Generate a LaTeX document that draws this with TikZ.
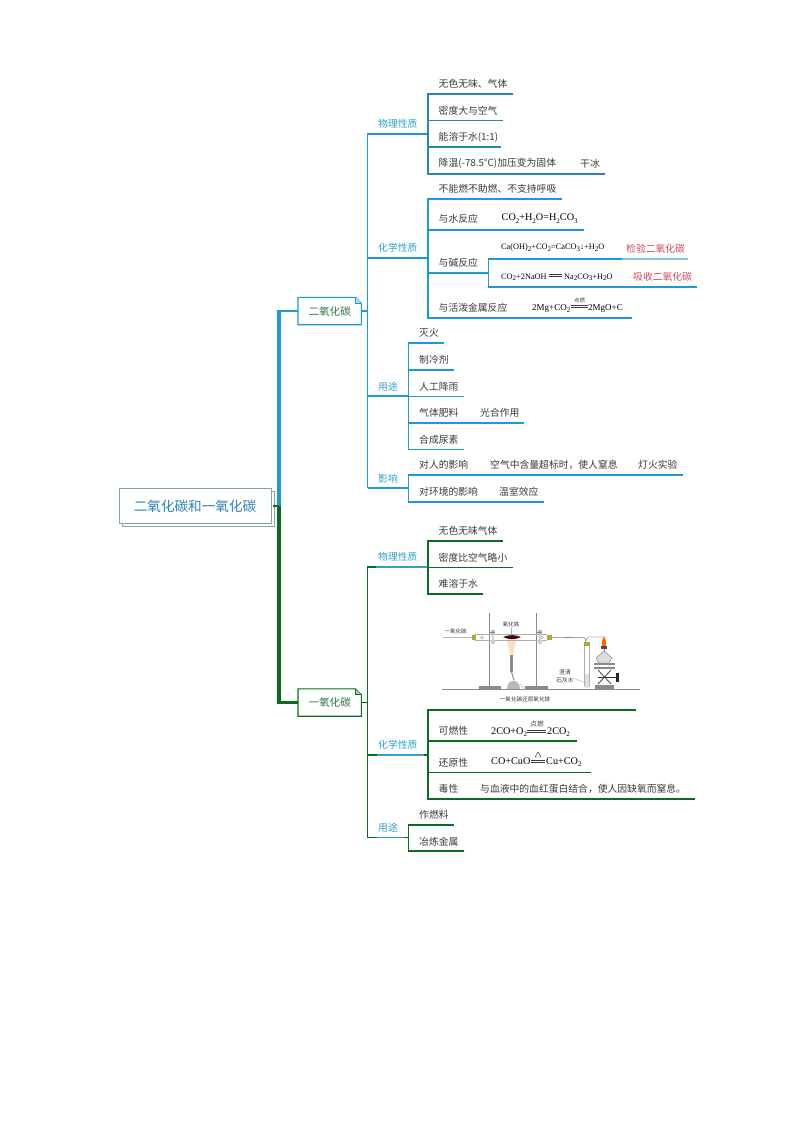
\documentclass[tikz,border=0pt]{standalone}
\usepackage{fontspec}
\setmainfont{Noto Sans CJK SC}
\newfontfamily\ser{Liberation Serif}
\newcommand\lo[1]{\raisebox{-0.22em}{\scriptsize\ser #1}}
\newcommand\eqbars[2]{\draw[eqbar] ([yshift=0.9pt]#1) -- ([yshift=0.9pt]#2); \draw[eqbar] ([yshift=-0.9pt]#1) -- ([yshift=-0.9pt]#2);}
\definecolor{bl}{HTML}{1B9AD6}
\definecolor{blt}{HTML}{2A86B8}
\definecolor{gr}{HTML}{0B6B1E}
\definecolor{tx}{HTML}{3A3A3A}
\definecolor{lb}{HTML}{2F9FCF}
\definecolor{rd}{HTML}{CF4A5C}
\definecolor{rootc}{HTML}{7FA8A0}
\definecolor{gy}{HTML}{8A8A8A}
\definecolor{tg}{HTML}{2F7A45}
\tikzset{
 txt/.style={anchor=west,inner sep=0pt,text=tx,font=\fontsize{9.8}{11}\selectfont},
 cat/.style={anchor=west,inner sep=0pt,text=lb,font=\fontsize{9.8}{11}\selectfont},
 red/.style={anchor=west,inner sep=0pt,text=rd,font=\fontsize{9.8}{11}\selectfont},
 eq/.style={anchor=base west,inner sep=0pt,text=black,font=\ser\fontsize{10.2}{11}\selectfont},
 eqs/.style={anchor=base west,inner sep=0pt,text=black,font=\ser\fontsize{8.3}{10}\selectfont},
 eqm/.style={anchor=base west,inner sep=0pt,text=black,font=\ser\fontsize{9}{10}\selectfont},
 cond/.style={inner sep=0pt,text=tx,font=\fontsize{6}{7}\selectfont},
 imt/.style={inner sep=0pt,text=tx,font=\fontsize{5.5}{6.5}\selectfont},
 bl1/.style={draw=bl,line width=1.1pt},
 bl2/.style={draw=bl,line width=1.25pt},
 bl3/.style={draw=blt,line width=1.25pt},
 gr1/.style={draw=gr,line width=1.1pt},
 gr2/.style={draw=gr,line width=1.25pt},
 eqbar/.style={draw=tx,line width=0.45pt},
 main/.style={line width=3.2pt},
 topic/.style={inner sep=0pt,minimum width=63pt,minimum height=27pt,text=tg,font=\fontsize{10.6}{12}\selectfont},
 rootbox/.style={draw=rootc,fill=white,line width=0.7pt},
 pole/.style={draw=gy,line width=0.9pt},
 tube/.style={draw=gy!70,line width=0.6pt},
}
\begin{document}
\begin{tikzpicture}[x=1pt,y=-1pt]
\useasboundingbox (0,0) rectangle (794,1123);
\fill[white] (0,0) rectangle (794,1123);

% main hubs
\coordinate (rootout) at (273,506);
\coordinate (maintop) at (279,310);
\coordinate (mainmid) at (279,506);
\coordinate (mainbot) at (279,704);
\node[topic] (co2) at (329.7,311) {二氧化碳};
\node[topic] (co) at (329.7,702.5) {一氧化碳};
\coordinate (bh) at (367.5,311);
\coordinate (gh) at (367.5,702.5);

% root
\draw[rootbox] (122,491) rectangle (274,526);
\draw[rootbox] (119,488) rectangle (271,523);
\node[inner sep=0pt,text=blt,font=\fontsize{13.6}{15}\selectfont] (root) at (195,506) {二氧化碳和一氧化碳};

\draw[main,draw=bl] (mainmid) -- (maintop);
\draw[bl2,line width=1.9pt] (maintop |- co2.west) -- (co2.west);
\draw[main,draw=gr] (mainmid) -- (mainbot);
\draw[gr,line width=2.2pt] (mainbot |- co.west) -- (co.west);
\draw[gr,line width=2.6pt] (rootout) -- (mainmid);

% topic boxes with folded corner
\foreach \n/\c in {co2/bl,co/gr}{
 \draw[draw=\c,line width=1.1pt] (\n.north west) -- ([xshift=-6pt]\n.north east) -- ([yshift=-6pt]\n.north east) -- (\n.south east) -- (\n.south west) -- cycle;
 \fill[\c!35] ([xshift=-6pt]\n.north east) -- ([xshift=-6pt,yshift=-6pt]\n.north east) -- ([yshift=-6pt]\n.north east) -- cycle;
 \draw[draw=\c,line width=0.7pt] ([xshift=-6pt]\n.north east) -- ([xshift=-6pt,yshift=-6pt]\n.north east) -- ([yshift=-6pt]\n.north east);
}

% ---------- CO2 tree
\coordinate (b1) at (428,134);
\coordinate (b2) at (428,258);
\coordinate (b3) at (408.5,396);
\coordinate (b4) at (408.5,488);
\draw[bl1] (co2.east) -- (bh);
\coordinate (btop) at (367.5,134);
\draw[bl1] (b4 -| bh) -- (btop) -- (b1);
\draw[bl1] (bh |- b2) -- (b2);
\draw[bl1] (bh |- b3) -- (b3);
\draw[bl1] (bh |- b4) -- (b4);
\node[cat] (c1) at (378,123.5) {物理性质};
\node[cat] (c2) at (378,248) {化学性质};
\node[cat] (c3) at (378,386.5) {用途};
\node[cat] (c4) at (378,478.5) {影响};

% physical
\coordinate (p1) at (512,94);
\coordinate (p2) at (502,120.5);
\coordinate (p3) at (500,147);
\coordinate (p4) at (604,174);
\draw[bl3] (p1 -| b1) -- (p4 -| b1);
\foreach \e in {p1,p2,p3,p4} \draw[bl3,line cap=rect] (\e -| b1) -- (\e);
\node[txt] (t1) at (438.5,84) {无色无味、气体};
\node[txt] (t2) at (438.5,110.5) {密度大与空气};
\node[txt] (t3) at (438.5,137) {能溶于水(1:1)};
\node[txt] (t4) at (438.5,163.5) {降温(-78.5°C)加压变为固体};
\node[txt] (t4b) at (580,163.5) {干冰};

% chemical
\coordinate (q1) at (561,199);
\coordinate (q2) at (583,230);
\coordinate (q3) at (488.5,273);
\coordinate (q4) at (631,318);
\coordinate (q3a) at (622,259);
\coordinate (q3aa) at (688,259);
\coordinate (q3b) at (696,287);
\draw[bl2] (q1 -| b1) -- (q4 -| b1);
\foreach \e in {q1,q2,q3,q4} \draw[bl2,line cap=rect] (\e -| b1) -- (\e);
\draw[bl2] (q3a -| q3) -- (q3b -| q3);
\draw[bl2,line cap=rect] (q3a -| q3) -- (q3a);
\draw[bl2,draw=bl!55] (q3a) -- (q3aa);
\draw[bl2,line cap=rect] (q3b -| q3) -- (q3b);
\node[txt] (u1) at (438.5,188.5) {不能燃不助燃、不支持呼吸};
\node[txt] (u2) at (438.5,219) {与水反应};
\node[eq] (u2e) at (501.5,221) {CO\lo{2}+H\lo{2}O=H\lo{2}CO\lo{3}};
\node[txt] (u3) at (438.5,262.5) {与碱反应};
\node[eqs] (u3a) at (501,250) {Ca(OH)\lo{2}+CO\lo{2}=CaCO\lo{3}↓+H\lo{2}O};
\node[red] (u3r) at (626,249) {检验二氧化碳};
\node[eqs] (u3b) at (501,279) {CO\lo{2}+2NaOH};
\coordinate (u3bl) at (549,275.5);
\coordinate (u3br) at (562,275.5);
\eqbars{u3bl}{u3br}
\node[eqs] (u3c) at (564,279) {Na\lo{2}CO\lo{3}+H\lo{2}O};
\node[red] (u3s) at (633,277) {吸收二氧化碳};
\node[txt] (u4) at (438.5,307.5) {与活泼金属反应};
\node[eqm] (u4e) at (532,310.5) {2Mg+CO\lo{2}};
\coordinate (u4l) at (571,306.5);
\coordinate (u4r) at (588,306.5);
\eqbars{u4l}{u4r}
\node[cond,font=\fontsize{5.5}{6}\selectfont] (u4c) at (579.5,300.5) {点燃};
\node[eqm] (u4f) at (588,310.5) {2MgO+C};

% uses
\coordinate (r1) at (443,343);
\coordinate (r2) at (453,370);
\coordinate (r3) at (463,396.5);
\coordinate (r4) at (523,423);
\coordinate (r5) at (463,449.5);
\draw[bl2] (r1 -| b3) -- (r5 -| b3);
\foreach \e in {r1,r2,r3,r4,r5} \draw[bl2,line cap=rect] (\e -| b3) -- (\e);
\node[txt] (v1) at (419,333) {灭火};
\node[txt] (v2) at (419,360) {制冷剂};
\node[txt] (v3) at (419,386.5) {人工降雨};
\node[txt] (v4) at (419,413) {气体肥料};
\node[txt] (v4b) at (480,413) {光合作用};
\node[txt] (v5) at (419,439.5) {合成尿素};

% influence
\coordinate (s1) at (682,475);
\coordinate (s2) at (543,502);
\draw[bl2] (s1 -| b4) -- (s2 -| b4);
\foreach \e in {s1,s2} \draw[bl2,line cap=rect] (\e -| b4) -- (\e);
\node[txt] (w1) at (419,465) {对人的影响};
\node[txt] (w1b) at (490,465) {空气中含量超标时，使人窒息};
\node[txt] (w1c) at (638,465) {灯火实验};
\node[txt] (w2) at (419,492) {对环境的影响};
\node[txt] (w2b) at (499,492) {温室效应};

% ---------- CO tree
\coordinate (g1) at (428,567);
\coordinate (g2) at (428,755);
\coordinate (g3) at (408.5,837.5);
\coordinate (gtop) at (367.5,567);
\draw[gr1] (co.east) -- (gh);
\draw[gr1] (g3 -| gh) -- (gtop) -- (g1);
\draw[gr1] (gh |- g2) -- (g2);
\draw[gr1] (gh |- g3) -- (g3);
\draw[draw=lb,line width=1.1pt] (376,567) -- (g1);
\draw[draw=lb,line width=1.1pt] (377,755) -- (424,755);
\draw[draw=lb,line width=1.1pt] (377,837.5) -- (404,837.5);
\node[cat] (d1) at (378,557) {物理性质};
\node[cat] (d2) at (378,744.5) {化学性质};
\node[cat] (d3) at (378,828) {用途};

\coordinate (h1) at (502,541);
\coordinate (h2) at (512,567.5);
\coordinate (h3) at (482,594);
\draw[gr2] (h1 -| g1) -- (h3 -| g1);
\foreach \e in {h1,h2,h3} \draw[gr2,line cap=rect] (\e -| g1) -- (\e);
\node[txt] (x1) at (438.5,531) {无色无味气体};
\node[txt] (x2) at (438.5,557.5) {密度比空气略小};
\node[txt] (x3) at (438.5,584) {难溶于水};

\coordinate (i0) at (635,710);
\coordinate (i1) at (576,741);
\coordinate (i2) at (590,772.5);
\coordinate (i3) at (694,799);
\draw[gr2] (i0 -| g2) -- (i3 -| g2);
\foreach \e in {i0,i1,i2,i3} \draw[gr2,line cap=rect] (\e -| g2) -- (\e);
\node[txt] (y1) at (438.5,731) {可燃性};
\node[eq] (y1a) at (491,734.5) {2CO+O\lo{2}};
\coordinate (y1l) at (527,731);
\coordinate (y1r) at (546,731);
\eqbars{y1l}{y1r}
\node[cond,font=\fontsize{6.6}{7}\selectfont] (y1c) at (537,723.5) {点燃};
\node[eq] (y1b) at (547,734.5) {2CO\lo{2}};
\node[txt] (y2) at (438.5,763) {还原性};
\node[eq] (y2a) at (491,764.5) {CO+CuO};
\coordinate (y2l) at (531,761.5);
\coordinate (y2r) at (545,761.5);
\eqbars{y2l}{y2r}
\coordinate (y2t) at (538,752);
\draw[tx,line width=0.45pt] (y2t) -- ++(3,5) -- ++(-6,0) -- cycle;
\node[eq] (y2b) at (546,764.5) {Cu+CO\lo{2}};
\node[txt] (y3) at (438.5,789) {毒性};
\node[txt] (y3b) at (480,789) {与血液中的血红蛋白结合，使人因缺氧而窒息。};

\coordinate (j1) at (453,825);
\coordinate (j2) at (463,851);
\draw[gr2] (j1 -| g3) -- (j2 -| g3);
\foreach \e in {j1,j2} \draw[gr2,line cap=rect] (\e -| g3) -- (\e);
\node[txt] (z1) at (419,815) {作燃料};
\node[txt] (z2) at (419,842) {冶炼金属};

% ---------- apparatus figure
\draw[gy,line width=0.7pt] (442,689) -- (640,689);
\draw[pole] (489,613) -- (489,686);
\draw[pole] (536,613) -- (536,686);
\fill[gy] (479,685.5) rectangle (501,689);
\fill[gy] (525,685.5) rectangle (548,689);
\draw[gy!60,line width=1pt] (443,637.5) -- (472,637.5);
\node[imt] (f1) at (455.5,631.5) {一氧化碳};
\fill[olive!70] (472,635) rectangle (475.5,640);
\draw[tube] (475,634.5) -- (547,634.5);
\draw[tube] (475,640.5) -- (547,640.5);
\draw[tube] (482,637.5) circle (1.5);
\draw[tube] (542,637.5) circle (1.5);
\fill[gy!60] (491,630) rectangle (495,634);
\fill[gy!40] (491,640) rectangle (495,644);
\fill[gy!60] (538,630) rectangle (542,634);
\fill[gy!40] (538,640) rectangle (542,644);
\fill[gy!40] (492,634) rectangle (494,641);
\fill[gy!40] (539,634) rectangle (541,641);
\draw[gy,line width=0.5pt] (489,632) -- (495,632);
\draw[gy,line width=0.5pt] (536,632) -- (542,632);
\node[imt] (f2) at (511,624.5) {氧化铁};
\draw[tube] (511,627.5) -- (511,635);
\fill[black!70!red] (503,637) .. controls (510,634.5) and (514,634.5) .. (521,637) .. controls (514,640) and (510,640) .. (503,637) -- cycle;
\fill[orange!25] (507,641) -- (516,641) -- (513,655) -- (510,655) -- cycle;
\fill[gy] (510,655) rectangle (513,672);
\draw[gy,line width=1pt] (511.5,672) -- (514,680);
\fill[gy!60] (507,689) .. controls (507,678) and (520,678) .. (520,689) -- cycle;
\draw[gy!60,line width=0.7pt] (520,684) -- (524,688);
\fill[olive!70] (547,635) rectangle (552,640);
\draw[gy!70,line width=1pt] (552,637.5) -- (563,637.5);
\draw[gy,line width=1.6pt] (563,637.5) -- (573,637.5);
\draw[gy!70,line width=1pt,rounded corners=1pt] (573,637.5) -- (585,637.5) -- (586,642);
\draw[gy!70,line width=0.7pt,rounded corners=1pt] (586,641) -- (588,637) -- (604,637) -- (604,640);
\fill[olive!70] (584,642) rectangle (589.5,646);
\draw[tube,rounded corners=1pt] (584.5,646) -- (584.5,687) -- (589.5,687) -- (589.5,646);
\fill[gy!25] (585,674) rectangle (589,686.5);
\node[imt,font=\fontsize{5.8}{6.8}\selectfont] (f3) at (565,672) {澄清};
\node[imt,font=\fontsize{5.8}{6.8}\selectfont] (f4) at (565,680.5) {石灰水};
\draw[gy!70,line width=0.4pt] (573,678) -- (586,683);
\fill[orange!80!red] (604,636) .. controls (601,642) and (601,646) .. (604,649) .. controls (607,646) and (607,642) .. (604,636) -- cycle;
\fill[black!70] (601,646) rectangle (607,649);
\draw[gy,line width=0.8pt] (604,649) -- (604,652);
\filldraw[draw=gy,fill=gy!30,line width=0.5pt] (604,651) -- (612,658) -- (609,663) -- (599,663) -- (596,658) -- cycle;
\fill[gy] (594,663) rectangle (615,665);
\fill[gy] (594,667) rectangle (615,669);
\draw[black!75,line width=0.8pt] (598,670) -- (611,684);
\draw[black!75,line width=0.8pt] (611,670) -- (598,684);
\draw[black!80,line width=0.8pt] (598,677) -- (616,677);
\fill[black!85] (616,672.5) rectangle (618.5,681.5);
\fill[gy] (595,685) rectangle (614,689);
\node[imt,font=\fontsize{5.6}{6.6}\selectfont] (f5) at (525,699) {一氧化碳还原氧化铁};
\end{tikzpicture}
\end{document}
